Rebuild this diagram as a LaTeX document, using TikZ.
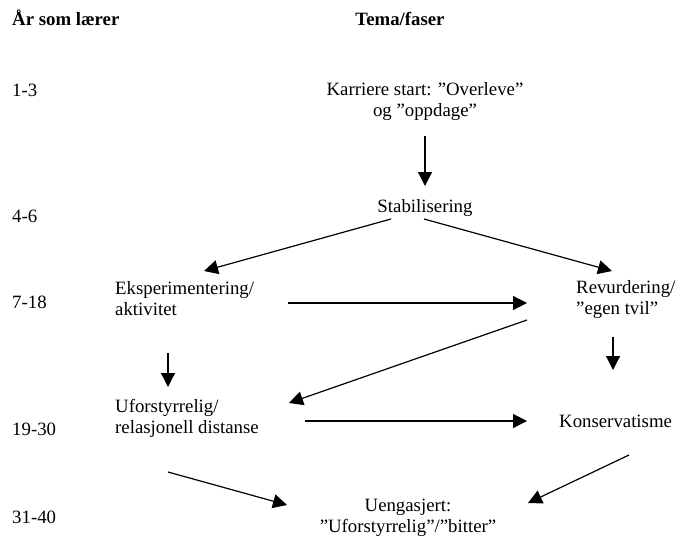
\documentclass[tikz,border=0pt]{standalone}
\usepackage{fontspec}
\setmainfont{Liberation Serif}
\usetikzlibrary{arrows.meta}
\begin{document}
\begin{tikzpicture}[x=1pt,y=-1pt,
  txt/.style={inner sep=0pt,font=\fontsize{18.8}{21}\selectfont},
  hdr/.style={txt,font=\fontsize{18.8}{21}\selectfont\bfseries},
  yr/.style={txt,anchor=base west},
  phase/.style={txt,align=left,anchor=west},
  cphase/.style={txt,align=center},
  arr/.style={line width=1.2pt,-{Triangle[length=14pt,width=14pt]}}]
\useasboundingbox (0,0) rectangle (676,540);
% headers
\node[hdr,anchor=base west] (h1) at (12,26) {År som lærer};
\node[hdr,anchor=base] (h2) at (400,26) {Tema/faser};
% years
\node[yr] (y1) at (12,97) {1-3};
\node[yr] (y2) at (12,222) {4-6};
\node[yr] (y3) at (12,308) {7-18};
\node[yr] (y4) at (12,435) {19-30};
\node[yr] (y5) at (12,523) {31-40};
% phases
\node[cphase] (karr) at (425,102) {Karriere start: ”Overleve”\\og ”oppdage”};
\node[cphase,anchor=base] (stab) at (425,212) {Stabilisering};
\node[phase] (eksp) at (115,299) {Eksperimentering/\\aktivitet};
\node[phase] (rev) at (576,300) {Revurdering/\\”egen tvil”};
\node[phase] (ufor) at (115,418) {Uforstyrrelig/\\relasjonell distanse};
\node[txt,anchor=base west] (kons) at (559,427) {Konservatisme};
\node[cphase] (ueng) at (408,518) {Uengasjert:\\”Uforstyrrelig”/”bitter”};
% arrow end points
\coordinate (a1s) at (425,136); \coordinate (a1e) at (425,186);
\coordinate (a2s) at (391,219); \coordinate (a2e) at (204,271);
\coordinate (a3s) at (424,219); \coordinate (a3e) at (612,271);
\coordinate (a4s) at (288,303); \coordinate (a4e) at (527,303);
\coordinate (a5s) at (527,320); \coordinate (a5e) at (289,403);
\coordinate (a6s) at (168,353); \coordinate (a6e) at (168,387);
\coordinate (a7s) at (613,337); \coordinate (a7e) at (613,370);
\coordinate (a8s) at (305,421); \coordinate (a8e) at (527,421);
\coordinate (a9s) at (168,472); \coordinate (a9e) at (287,505);
\coordinate (a10s) at (629,455); \coordinate (a10e) at (528,503);
\draw[arr] (a1s) -- (a1e);
\draw[arr] (a2s) -- (a2e);
\draw[arr] (a3s) -- (a3e);
\draw[arr] (a4s) -- (a4e);
\draw[arr] (a5s) -- (a5e);
\draw[arr] (a6s) -- (a6e);
\draw[arr] (a7s) -- (a7e);
\draw[arr] (a8s) -- (a8e);
\draw[arr] (a9s) -- (a9e);
\draw[arr] (a10s) -- (a10e);
\end{tikzpicture}
\end{document}
